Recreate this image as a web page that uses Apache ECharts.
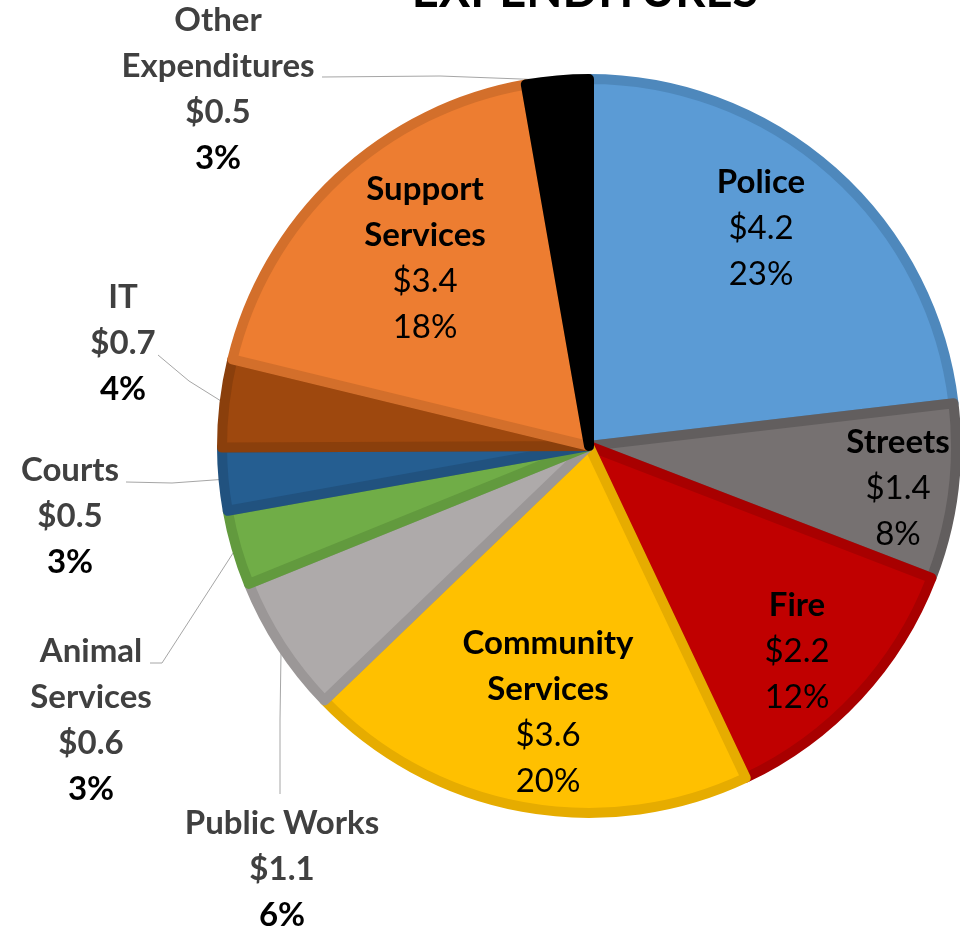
<!DOCTYPE html>
<html><head><meta charset="utf-8">
<script src="https://cdn.jsdelivr.net/npm/echarts@6/dist/echarts.min.js"></script>
<style>html,body{margin:0;padding:0;background:#fff}#c{width:960px;height:929px}</style>
</head><body><div id="c"></div>
<script>
// ---- data ----
const categories = ['Police','Streets','Fire','Community Services','Public Works','Animal Services','Courts','IT','Support Services','Other Expenditures'];
const amounts = [4.2, 1.4, 2.2, 3.6, 1.1, 0.6, 0.5, 0.7, 3.35, 0.5];

// ---- styling / layout (not data) ----
const fillColors = ['#5B9BD5','#767171','#C00000','#FFC000','#AEAAAA','#70AD47','#255E91','#9E480E','#ED7D31','#000000'];
const bandColors = ['#4E88BC','#625E5E','#A80000','#E6AC00','#9B9797','#629A3E','#21527F','#8A3F0C','#D36F2B','#000000'];
const insideLabel = [true,true,true,true,false,false,false,false,true,false];
const labelCenters = [[761,228],[898,488],[797,651],[548,712],[282,869],[91,720],[70,516],[123,343],[425,258],[218,89]];
const leaderPts = [null,null,null,null,[[280,720],[280,794]],[[162,663],[150,663]],[[172,483],[126,482]],[[189,381],[158,355]],null,[[440,76],[322,77]]];

const FONT = 'Lato';
const FS = 33, LH = 46;

const chart = echarts.init(document.getElementById('c'), null, {renderer:'canvas'});

function fmt(p){
  const i = p.dataIndex;
  const nm = p.name === 'Public Works' ? [p.name] : p.name.split(' ');
  const val = '$' + (Math.round(p.value*10)/10).toFixed(1);
  const pct = Math.round(p.percent) + '%';
  if (insideLabel[i]) {
    return nm.map(s => '{n|' + s + '}').join('\n') + '\n{v|' + val + '}\n{v|' + pct + '}';
  }
  return nm.map(s => '{on|' + s + '}').join('\n') + '\n{on|' + val + '}\n{op|' + pct + '}';
}

const data = categories.map((c, i) => ({
  name: c,
  value: amounts[i],
  itemStyle: { color: fillColors[i], borderColor: bandColors[i], borderWidth: 10 },
  label: { position: insideLabel[i] ? 'inside' : 'outside' },
  labelLine: { show: !insideLabel[i] }
}));

const option = {
  animation: false,
  backgroundColor: '#ffffff',
  title: {
    text: 'EXPENDITURES',
    left: 580, textAlign: 'center', top: -37,
    textStyle: { fontFamily: FONT, fontSize: 47, fontWeight: 'bold', color: '#000' }
  },
  series: [{
    type: 'pie',
    center: [589, 446],
    radius: 367,
    startAngle: 90,
    clockwise: true,
    avoidLabelOverlap: false,
    emphasis: { disabled: true },
    data: data,
    label: {
      show: true,
      formatter: fmt,
      fontFamily: FONT,
      align: 'center',
      rich: {
        n:  { fontFamily: FONT, fontSize: FS, lineHeight: LH, fontWeight: 'bold', color: '#000', align: 'center' },
        v:  { fontFamily: FONT, fontSize: FS, lineHeight: LH, fontWeight: 'normal', color: '#000', align: 'center' },
        on: { fontFamily: FONT, fontSize: FS, lineHeight: LH, fontWeight: 'bold', color: '#404040', align: 'center' },
        op: { fontFamily: FONT, fontSize: FS, lineHeight: LH, fontWeight: 'bold', color: '#000', align: 'center' }
      }
    },
    labelLine: { lineStyle: { color: '#A6A6A6', width: 1 }, length: 20, length2: 20 },
    labelLayout: function (params) {
      const i = params.dataIndex;
      const c = labelCenters[i];
      const res = { x: c[0], y: c[1], align: 'center', verticalAlign: 'middle' };
      if (leaderPts[i] && params.labelLinePoints) {
        res.labelLinePoints = [params.labelLinePoints[0], leaderPts[i][0], leaderPts[i][1]];
      }
      return res;
    }
  }]
};
chart.setOption(option);
</script>
</body></html>
